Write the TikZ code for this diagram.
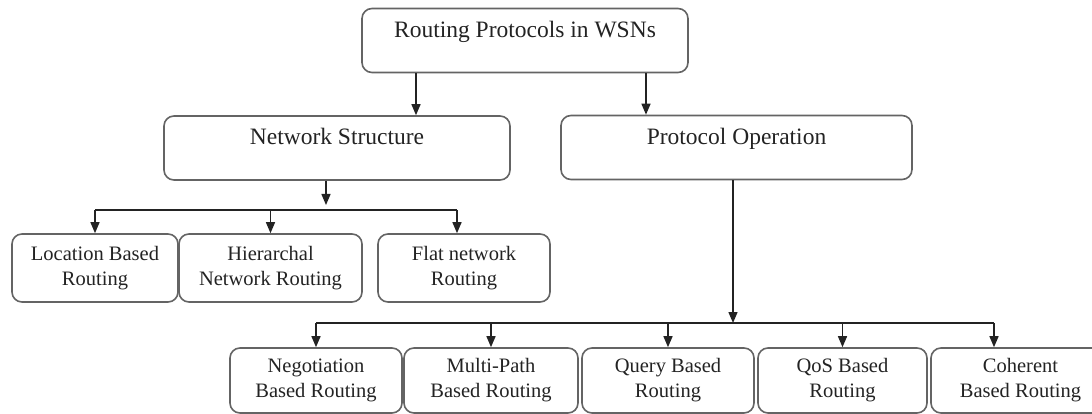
\documentclass[tikz,border=0pt]{standalone}
\usepackage{fontspec}
\setmainfont{Liberation Serif}
\usetikzlibrary{arrows.meta}
\definecolor{bb}{RGB}{100, 100, 100}
\definecolor{ll}{RGB}{35, 35, 35}

\begin{document}
\begin{tikzpicture}[
  every node/.style={inner sep=0pt},
  mainbox/.style={draw=bb, line width=1.6pt, rounded corners=10pt, text height=29pt, text depth=35pt, font=\fontsize{23.5}{27}\selectfont, text=ll},
  leafbox/.style={draw=bb, line width=1.6pt, rounded corners=10pt, align=center, font=\fontsize{20.5}{25}\selectfont, text=ll},
  wire/.style={line width=1.4pt, color=ll},
  arr/.style={wire, -{Triangle[length=11pt, width=9pt]}}
]
\useasboundingbox (0pt, 0pt) rectangle (1092pt, -414pt);
\clip (0pt, 0pt) rectangle (1092pt, -414pt);
% upper levels
\node (root) [mainbox, minimum width=326pt] at (525pt, -40.5pt) {Routing Protocols in WSNs};
\node (netstruct) [mainbox, minimum width=346pt] at (337pt, -148pt) {Network Structure};
\node (protop) [mainbox, minimum width=351pt] at (736.5pt, -147.5pt) {Protocol Operation};
% network structure leaves
\node (loc) [leafbox, minimum width=166pt, minimum height=68pt] at (95pt, -268pt) {Location Based\\Routing};
\node (hier) [leafbox, minimum width=183pt, minimum height=68pt] at (270.5pt, -268pt) {Hierarchal\\Network Routing};
\node (flat) [leafbox, minimum width=172pt, minimum height=68pt] at (464pt, -268pt) {Flat network\\Routing};
% protocol operation leaves
\node (neg) [leafbox, minimum width=172pt, minimum height=65pt] at (316pt, -380.5pt) {Negotiation\\Based Routing};
\node (multi) [leafbox, minimum width=174pt, minimum height=65pt] at (491pt, -380.5pt) {Multi-Path\\Based Routing};
\node (query) [leafbox, minimum width=172pt, minimum height=65pt] at (668pt, -380.5pt) {Query Based\\Routing};
\node (qos) [leafbox, minimum width=169pt, minimum height=65pt] at (842.5pt, -380.5pt) {QoS Based\\Routing};
\node (coh) [leafbox, minimum width=179pt, minimum height=65pt] at (1020.5pt, -380.5pt) {Coherent\\Based Routing};
% root to the two classes
\draw [arr] ([xshift=-109pt]root.south) to ([xshift=-109pt]root.south |- netstruct.north);
\draw [arr] ([xshift=121pt]root.south) to ([xshift=121pt]root.south |- protop.north);
% network structure bus
\coordinate (nsbus) at (326pt, -210pt);
\coordinate (flatin) at ([xshift=-7pt]flat.north);
\draw [arr] (netstruct.south -| nsbus) to ([yshift=5pt]nsbus);
\draw [wire] (nsbus -| loc.north) to (nsbus -| flatin);
\draw [arr] (nsbus -| loc.north) to (loc.north);
\draw [arr] (nsbus -| hier.north) to (hier.north);
\draw [arr] (nsbus -| flatin) to (flatin);
% protocol operation bus
\coordinate (pobus) at (733pt, -323pt);
\coordinate (cohin) at ([xshift=-26.5pt]coh.north);
\draw [arr] (protop.south -| pobus) to (pobus);
\draw [wire] (pobus -| neg.north) to (pobus -| cohin);
\foreach \n in {neg, multi, query, qos}
  \draw [arr] (pobus -| \n.north) to (\n.north);
\draw [arr] (pobus -| cohin) to (cohin);
\end{tikzpicture}
\end{document}
